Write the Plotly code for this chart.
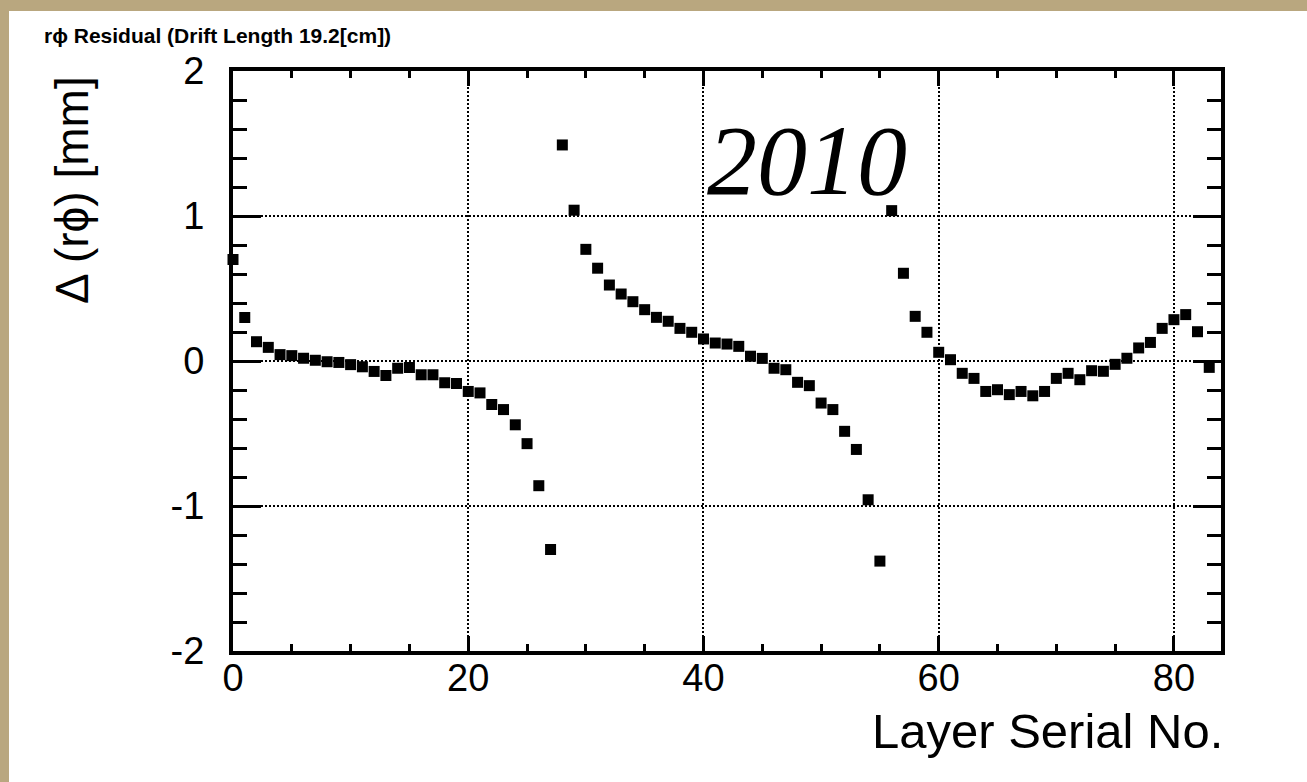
import plotly.graph_objects as go

# Layer serial number and r-phi residual [mm] at drift length 19.2 cm
layers = [0, 1, 2, 3, 4, 5, 6, 7, 8, 9, 10, 11, 12, 13, 14, 15, 16, 17, 18, 19,
          20, 21, 22, 23, 24, 25, 26, 27, 28, 29, 30, 31, 32, 33, 34, 35, 36, 37, 38, 39,
          40, 41, 42, 43, 44, 45, 46, 47, 48, 49, 50, 51, 52, 53, 54, 55, 56, 57, 58, 59,
          60, 61, 62, 63, 64, 65, 66, 67, 68, 69, 70, 71, 72, 73, 74, 75, 76, 77, 78, 79,
          80, 81, 82, 83]
residual = [0.70, 0.30, 0.133, 0.094, 0.044, 0.037, 0.019, 0.005, -0.005, -0.010,
            -0.025, -0.040, -0.072, -0.100, -0.050, -0.045, -0.095, -0.095, -0.150, -0.155,
            -0.210, -0.220, -0.300, -0.335, -0.440, -0.570, -0.860, -1.300, 1.490, 1.040,
            0.770, 0.640, 0.524, 0.462, 0.409, 0.354, 0.301, 0.274, 0.225, 0.198,
            0.152, 0.124, 0.117, 0.101, 0.033, 0.018, -0.050, -0.060, -0.147, -0.170,
            -0.290, -0.335, -0.485, -0.610, -0.957, -1.380, 1.037, 0.605, 0.308, 0.198,
            0.060, 0.009, -0.085, -0.120, -0.210, -0.198, -0.232, -0.210, -0.240, -0.210,
            -0.120, -0.085, -0.129, -0.067, -0.071, -0.023, 0.019, 0.090, 0.128, 0.225,
            0.285, 0.320, 0.202, -0.044]

x_ticks = [0, 20, 40, 60, 80]
x_ticktext = ["0", "20", "40", "60", "80"]
y_ticks = [-2, -1, 0, 1, 2]
y_ticktext = ["-2", "-1", "0", "1", "2"]

W, H = 1307, 782
L, R, T, B = 233, 86, 71, 131
PW, PH = W - L - R, H - T - B


def px(x):
    return (x - L) / PW


def py(y):
    return (H - B - y) / PH


SANS = "Liberation Sans, Arial, Helvetica, sans-serif"
SERIF = "Liberation Serif, Times New Roman, serif"

fig = go.Figure()
fig.add_trace(go.Scatter(
    x=layers, y=residual, mode="markers",
    marker=dict(symbol="square", size=11, color="black", line=dict(width=0)),
    cliponaxis=False, showlegend=False,
))

axis_common = dict(
    showline=True, linecolor="black", linewidth=4, mirror="ticks",
    ticks="inside", tickcolor="black", tickwidth=3,
    showgrid=True, gridcolor="black", gridwidth=1.5, griddash="1.5px,2.5px",
    zeroline=False,
    tickfont=dict(family=SANS, size=38, color="black"),
)

fig.update_xaxes(
    range=[0, 84], tickmode="array", tickvals=x_ticks, ticktext=x_ticktext,
    ticklen=15, ticklabelstandoff=-10,
    minor=dict(dtick=5, ticks="inside", ticklen=7, tickwidth=3, tickcolor="black", showgrid=False),
    **axis_common,
)
fig.update_yaxes(
    range=[-2, 2], tickmode="array", tickvals=y_ticks, ticktext=y_ticktext,
    ticklen=28, ticklabelstandoff=17,
    minor=dict(dtick=0.2, ticks="inside", ticklen=14, tickwidth=3, tickcolor="black", showgrid=False),
    **axis_common,
)

# tan surround outside the white page
tan = "#b9a77f"
shapes = [
    dict(type="rect", xref="paper", yref="paper", x0=px(0), x1=px(9), y0=py(H), y1=py(0),
         fillcolor=tan, line=dict(width=0), layer="below"),
    dict(type="rect", xref="paper", yref="paper", x0=px(0), x1=px(W), y0=py(11), y1=py(0),
         fillcolor=tan, line=dict(width=0), layer="below"),
]

annotations = [
    dict(text="<b>r\u03d5 Residual (Drift Length 19.2[cm])</b>", xref="paper", yref="paper",
         x=px(42), y=py(35), xanchor="left", yanchor="middle", showarrow=False,
         font=dict(family=SANS, size=21, color="black")),
    dict(text="\u0394 (r\u03d5) [mm]", xref="paper", yref="paper", textangle=-90,
         x=px(72), y=py(190), xanchor="center", yanchor="middle", showarrow=False,
         font=dict(family=SANS, size=46, color="black")),
    dict(text="Layer Serial No.", xref="paper", yref="paper",
         x=px(1225), y=py(731), xanchor="right", yanchor="middle", showarrow=False,
         font=dict(family=SANS, size=49, color="black")),
    dict(text="<i>2010</i>", xref="paper", yref="paper",
         x=px(807), y=py(160), xanchor="center", yanchor="middle", showarrow=False,
         font=dict(family=SERIF, size=100, color="black")),
]

fig.update_layout(
    width=W, height=H,
    margin=dict(l=L, r=R, t=T, b=B, pad=0),
    paper_bgcolor="white", plot_bgcolor="white",
    shapes=shapes, annotations=annotations,
    showlegend=False,
)

fig.write_html("out.html")
